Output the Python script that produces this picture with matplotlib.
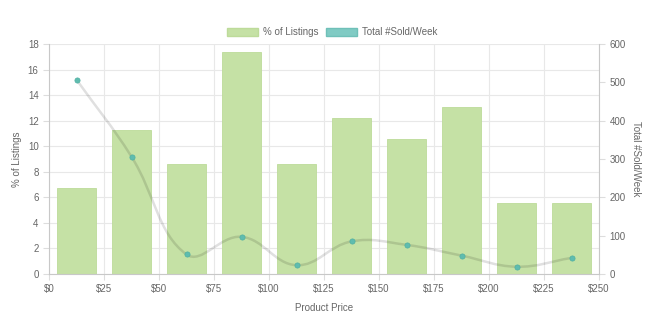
import numpy as np
import matplotlib
matplotlib.use("Agg")
import matplotlib.pyplot as plt
from matplotlib.path import Path
from matplotlib.patches import PathPatch, Patch

# Data
price_centers = [12.5, 37.5, 62.5, 87.5, 112.5, 137.5, 162.5, 187.5, 212.5, 237.5]
pct_listings = [6.75, 11.27, 8.62, 17.37, 8.62, 12.2, 10.6, 13.1, 5.55, 5.55]
sold_per_week = [507, 306, 51, 97, 23, 85, 76, 48, 19, 42]
x_ticks = [0, 25, 50, 75, 100, 125, 150, 175, 200, 225, 250]
x_tick_labels = ["$" + str(v) for v in x_ticks]

bar_color = "#c5e1a5"
teal = "#80cbc4"
point_color = "#5fbcaf"
text_color = "#666666"
grid_color = "#e8e8e8"

plt.rcParams["font.family"] = ["Liberation Sans", "DejaVu Sans"]

fig = plt.figure(figsize=(6.64, 3.19), dpi=100)
ax = fig.add_axes([49 / 664, 1 - 274 / 319, 550 / 664, 230 / 319])
ax2 = ax.twinx()

# bars (left axis)
ax.bar(price_centers, pct_listings, width=25 * 0.72, color=bar_color,
       edgecolor="#bddb9a", linewidth=0.6, zorder=2)
ax.set_xlim(0, 250)
ax.set_ylim(0, 18)
ax.set_xticks(x_ticks)
ax.set_xticklabels(x_tick_labels)
ax.set_yticks(range(0, 19, 2))
ax.grid(True, color=grid_color, linewidth=0.8, zorder=0)
ax.set_axisbelow(True)

ax2.set_ylim(0, 600)
ax2.set_yticks(range(0, 601, 100))

for a in (ax, ax2):
    a.tick_params(colors=text_color, labelsize=7, length=4, width=0.8)
    a.tick_params(axis="both", color="#dddddd")
    for s in a.spines.values():
        s.set_visible(False)
ax.spines["left"].set_visible(True)
ax.spines["left"].set_color("#c8c8c8")
ax.spines["bottom"].set_visible(True)
ax.spines["bottom"].set_color("#c8c8c8")
ax2.spines["right"].set_visible(True)
ax2.spines["right"].set_color("#c8c8c8")

ax.set_xlabel("Product Price", fontsize=7, color=text_color, labelpad=6)
ax.set_ylabel("% of Listings", fontsize=7, color=text_color, labelpad=4)
ax2.set_ylabel("Total #Sold/Week", fontsize=7, color=text_color,
               rotation=270, labelpad=11)

# smooth line like chart.js (tension 0.4), computed in pixel space
fig.canvas.draw()
pts = ax2.transData.transform(np.column_stack([price_centers, sold_per_week]))
t = 0.4
n = len(pts)
cp_prev = np.zeros_like(pts)
cp_next = np.zeros_like(pts)
for i in range(n):
    prev = pts[max(i - 1, 0)]
    cur = pts[i]
    nxt = pts[min(i + 1, n - 1)]
    d01 = np.hypot(*(cur - prev))
    d12 = np.hypot(*(nxt - cur))
    tot = d01 + d12
    s01 = d01 / tot if tot else 0
    s12 = d12 / tot if tot else 0
    cp_prev[i] = cur - t * s01 * (nxt - prev)
    cp_next[i] = cur + t * s12 * (nxt - prev)

verts = [pts[0]]
codes = [Path.MOVETO]
for i in range(n - 1):
    verts += [cp_next[i], cp_prev[i + 1], pts[i + 1]]
    codes += [Path.CURVE4] * 3
verts = ax2.transData.inverted().transform(np.array(verts))
line = PathPatch(Path(verts, codes), facecolor="none",
                 edgecolor=(0, 0, 0, 0.12), linewidth=1.8, zorder=3)
ax2.add_patch(line)
ax2.scatter(price_centers, sold_per_week, s=14, color=point_color,
            edgecolor="#4fb0a2", linewidth=0.5, zorder=4)

handles = [Patch(facecolor=bar_color, edgecolor="#bddb9a", label="% of Listings"),
           Patch(facecolor=teal, edgecolor="#6fc0b8", label="Total #Sold/Week")]
leg = fig.legend(handles=handles, loc="center", bbox_to_anchor=(0.5, 1 - 32 / 319),
                 ncol=2, frameon=False, fontsize=7, handlelength=3.2,
                 handleheight=0.9, columnspacing=0.8, handletextpad=0.5)
for txt in leg.get_texts():
    txt.set_color(text_color)

fig.savefig("out.png", dpi=100)
